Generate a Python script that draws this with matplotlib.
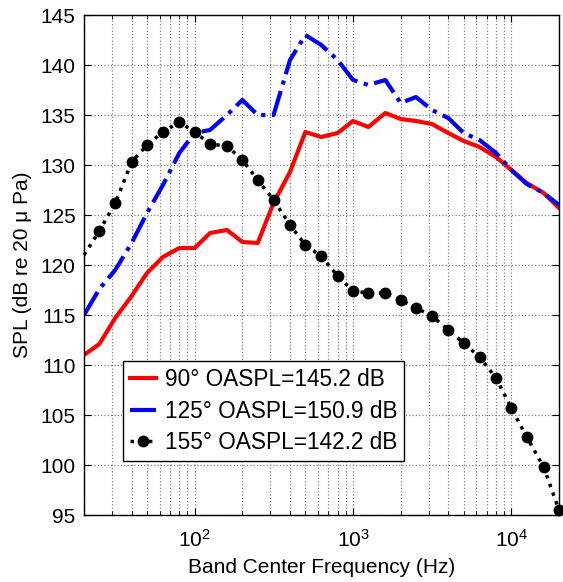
import matplotlib
matplotlib.use("Agg")
import matplotlib.pyplot as plt
import numpy as np
from matplotlib.ticker import LogLocator, NullFormatter

plt.rcParams['font.family'] = ['Liberation Sans', 'DejaVu Sans']

freqs = [20, 25, 31.5, 40, 50, 63, 80, 100, 125, 160, 200, 250, 315, 400, 500,
         630, 800, 1000, 1250, 1600, 2000, 2500, 3150, 4000, 5000, 6300, 8000,
         10000, 12500, 16000, 20000]

spl_90 = [111.0, 112.1, 114.7, 116.9, 119.2, 120.8, 121.7, 121.7, 123.2, 123.5,
          122.3, 122.2, 126.2, 129.3, 133.3, 132.8, 133.2, 134.4, 133.8, 135.2,
          134.6, 134.4, 134.1, 133.2, 132.4, 131.8, 130.8, 129.5, 128.2, 127.2, 125.7]

spl_125 = [115.0, 117.6, 119.5, 122.2, 125.2, 128.0, 131.2, 133.2, 133.5, 135.0,
           136.5, 135.0, 135.0, 140.5, 143.0, 142.0, 140.5, 138.5, 138.0, 138.5,
           136.2, 136.8, 135.5, 134.7, 133.2, 132.5, 131.2, 129.5, 128.1, 127.2, 126.0]

spl_155 = [121.0, 123.4, 126.2, 130.3, 132.0, 133.3, 134.3, 133.3, 132.1, 131.9,
           130.5, 128.5, 126.5, 124.0, 122.0, 120.9, 118.9, 117.4, 117.2, 117.2,
           116.5, 115.7, 114.9, 113.5, 112.2, 110.8, 108.7, 105.7, 102.8, 99.8, 95.5]

labels = ['90° OASPL=145.2 dB', '125° OASPL=150.9 dB', '155° OASPL=142.2 dB']

fig = plt.figure(figsize=(5.63, 5.82), dpi=100)
ax = fig.add_axes([84/563, 1 - 515/582, 475/563, 500/582])

ax.plot(freqs, spl_90, color='#ff0000', lw=3, ls='-', label=labels[0])
ax.plot(freqs, spl_125, color='#0000ff', lw=3, ls='-.', label=labels[1])
ax.plot(freqs, spl_155, color='black', lw=2.5, ls=':', marker='o', ms=7.5,
        markevery=list(range(1, len(freqs))),
        label=labels[2], clip_on=False, zorder=3)

ax.set_xscale('log')
ax.set_xlim(20, 20000)
ax.set_ylim(95, 145)
ax.set_yticks(np.arange(95, 146, 5))
ax.xaxis.set_minor_locator(LogLocator(base=10, subs=np.arange(2, 10)))
ax.xaxis.set_minor_formatter(NullFormatter())

ax.grid(True, which='major', ls=':', color='#808080', lw=0.9)
ax.grid(True, which='minor', axis='x', ls=':', color='#808080', lw=0.9)

ax.tick_params(which='both', direction='in', top=True, right=True, labelsize=15)
ax.tick_params(axis='y', pad=6)
ax.tick_params(axis='x', pad=10)
ax.tick_params(which='major', length=5)
ax.tick_params(which='minor', length=3)
for s in ax.spines.values():
    s.set_linewidth(1.0)

ax.set_xlabel('Band Center Frequency (Hz)', fontsize=15, labelpad=5)
ax.set_ylabel('SPL (dB re 20 \u03bc Pa)', fontsize=15, labelpad=6)

leg = ax.legend(loc='lower left', bbox_to_anchor=(0.082, 0.108), borderaxespad=0,
                fontsize=16.3, frameon=True, fancybox=False, handlelength=1.15,
                handletextpad=0.4, labelspacing=0.38, borderpad=0.3)
leg.get_frame().set_edgecolor('black')
leg.get_frame().set_linewidth(1.0)
leg.get_frame().set_alpha(1)

fig.savefig('out.png', dpi=100)
